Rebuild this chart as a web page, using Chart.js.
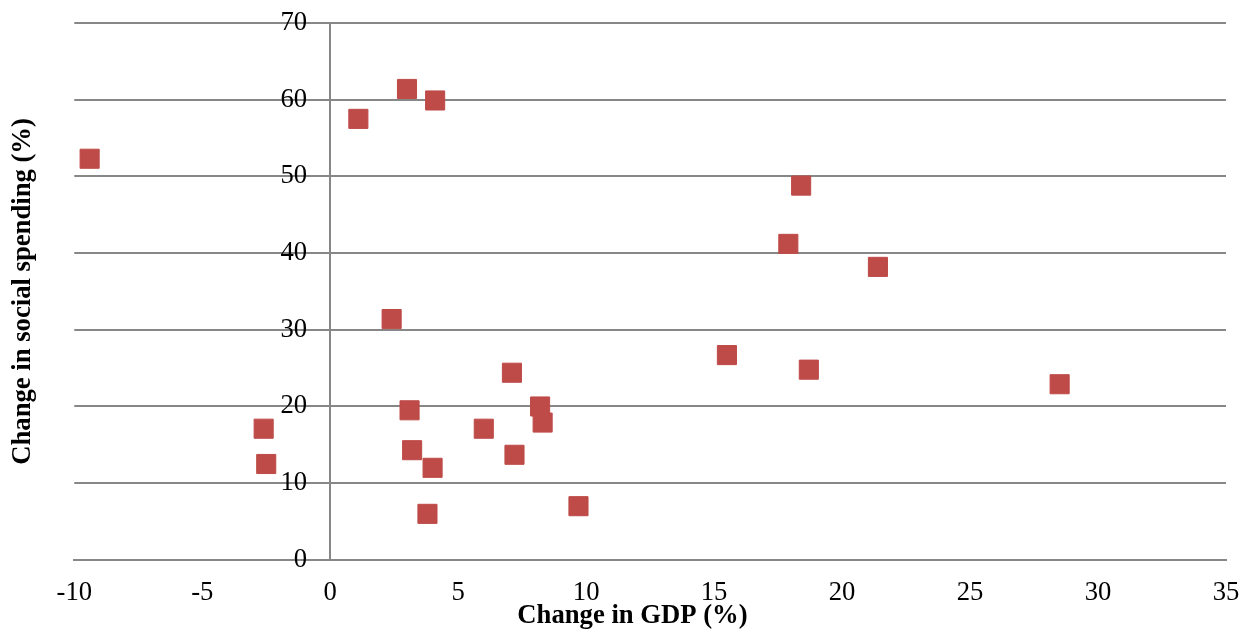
<!DOCTYPE html>
<html>
<head>
<meta charset="utf-8">
<title>Change in GDP / Change in social spending</title>
<script src="https://cdn.jsdelivr.net/npm/chart.js@4.4.1/dist/chart.umd.min.js"></script>
<style>
  html, body { margin: 0; padding: 0; background: #fff; }
  #wrap { width: 1255px; height: 634px; position: relative; }
</style>
</head>
<body>
<div id="wrap"><canvas id="scatterChart"></canvas></div>
<script>
// Valeurs (un point par pays)
const gdpChange = [-9.4, 1.1, 3.0, 4.1, 18.4, 17.9, 21.4, 2.4, 15.5, 18.7, 28.5, 7.1,
                   8.2, 8.3, 6.0, 3.1, 3.2, 7.2, 4.0, -2.6, -2.5, 3.8, 9.7];
const socialChange = [52.3, 57.5, 61.4, 59.9, 48.8, 41.2, 38.2, 31.4, 26.7, 24.8, 22.9, 24.4,
                      20.0, 17.9, 17.1, 19.5, 14.3, 13.7, 12.0, 17.1, 12.5, 6.0, 7.0];

// Graduations des axes
const xTicks = [-10, -5, 0, 5, 10, 15, 20, 25, 30, 35];
const yTicks = [0, 10, 20, 30, 40, 50, 60, 70];

const xTitle = 'Change in GDP (%)';
const yTitle = 'Change in social spending (%)';

const GRID_COLOR = '#878787';
const MARKER_COLOR = '#BE4B48';

// Fonction pour initialiser le nuage de points
function initScatterChart() {
    const ctx = document.getElementById('scatterChart').getContext('2d');
    Chart.defaults.font.family = '"Liberation Serif", "Times New Roman", serif';
    Chart.defaults.color = '#000';

    const points = gdpChange.map((x, i) => ({ x: x, y: socialChange[i] }));

    const data = {
        datasets: [{
            label: 'Pays',
            data: points,
            pointStyle: 'rect',
            pointRadius: 13.5,
            backgroundColor: MARKER_COLOR,
            borderColor: MARKER_COLOR,
            borderWidth: 1
        }]
    };

    const yMin = yTicks[0];
    const yMax = yTicks[yTicks.length - 1];

    const options = {
        responsive: true,
        maintainAspectRatio: false,
        animation: false,
        events: [],
        layout: { padding: { top: 23, left: 10, right: 0, bottom: 4.2 } },
        plugins: {
            legend: { display: false },
            tooltip: { enabled: false },
            // titre de l'axe horizontal, centré sur toute la largeur
            title: {
                display: true,
                position: 'bottom',
                text: xTitle,
                color: '#000',
                font: { size: 26.67, weight: 'bold', lineHeight: 1 },
                padding: { top: -3.1, bottom: 0 }
            }
        },
        scales: {
            x: {
                type: 'linear',
                min: xTicks[0],
                max: xTicks[xTicks.length - 1],
                afterBuildTicks: (scale) => { scale.ticks = xTicks.map(v => ({ value: v })); },
                // pas de grille verticale ; tickLength sert d'écart sous l'axe
                grid: { display: false, drawTicks: true, tickLength: 19.7 },
                border: { color: GRID_COLOR, width: 2 },
                ticks: { font: { size: 26.67, lineHeight: 1 }, color: '#000', padding: 0 }
            },
            // graduations verticales et lignes de grille, étiquettes juste à gauche de x = 0
            y: {
                type: 'linear',
                position: { x: -0.9 },
                min: yMin,
                max: yMax,
                afterBuildTicks: (scale) => { scale.ticks = yTicks.map(v => ({ value: v })); },
                grid: { color: GRID_COLOR, lineWidth: 2, drawTicks: false },
                border: { display: false },
                ticks: { font: { size: 26.67 }, color: '#000' }
            },
            // l'axe vertical lui-même, qui croise en x = 0
            yZero: {
                type: 'linear',
                axis: 'y',
                position: { x: 0 },
                min: yMin,
                max: yMax,
                grid: { display: false, drawTicks: false },
                border: { color: GRID_COLOR, width: 2 },
                ticks: { display: false }
            },
            // axe vide, seulement pour porter le titre vertical à gauche
            yTitle: {
                type: 'linear',
                axis: 'y',
                position: 'left',
                grid: { display: false, drawTicks: false },
                border: { display: false },
                ticks: { display: false },
                title: {
                    display: true,
                    text: yTitle,
                    color: '#000',
                    font: { size: 26.67, weight: 'bold', lineHeight: 1 },
                    padding: { top: 0, bottom: 37.6 }
                }
            },
            // marge à droite
            yRight: {
                type: 'linear',
                axis: 'y',
                position: 'right',
                grid: { display: false, drawTicks: false },
                border: { display: false },
                ticks: { display: false },
                afterFit: (scale) => { scale.width = 29; }
            }
        }
    };

    const scatterChart = new Chart(ctx, {
        type: 'scatter',
        data: data,
        options: options
    });
}

initScatterChart();
</script>
</body>
</html>
